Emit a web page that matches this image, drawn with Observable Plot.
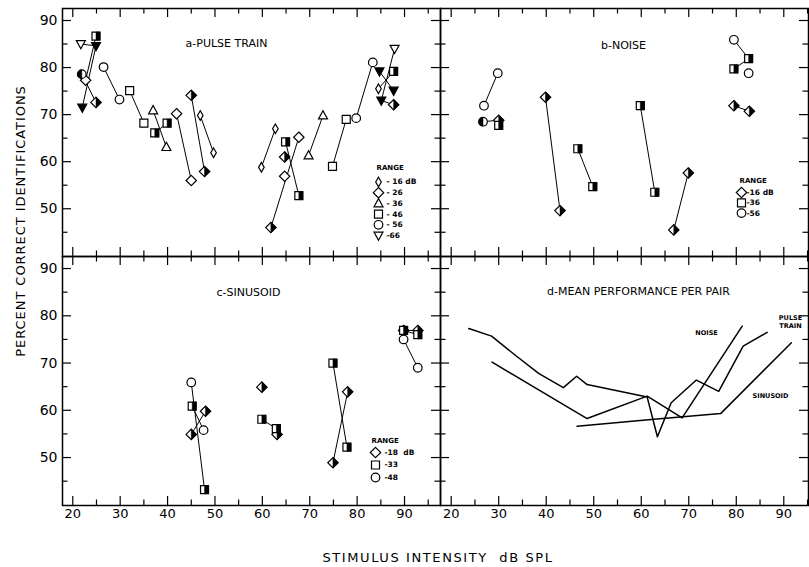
<!DOCTYPE html>
<html><head><meta charset="utf-8">
<script src="https://cdn.jsdelivr.net/npm/d3@7"></script>
<script src="https://cdn.jsdelivr.net/npm/@observablehq/plot@0.6"></script>
<style>
body{margin:0;background:#fff;}
#chart{position:relative;width:809px;height:567px;font-family:"DejaVu Sans",sans-serif;color:#000;overflow:hidden;}
#chart svg{position:absolute;left:0;top:0;}
.atitle{position:absolute;white-space:nowrap;font-size:13px;}
</style></head>
<body><div id="chart">
<div class="atitle" id="ytitle" style="left:20px;top:221px;letter-spacing:0.95px;transform:translate(-50%,-50%) rotate(-90deg);">PERCENT CORRECT IDENTIFICATIONS</div>
<div class="atitle" id="xtitle" style="left:438px;top:557px;letter-spacing:1.6px;transform:translate(-50%,-50%);">STIMULUS INTENSITY&nbsp; dB SPL</div>
</div>
<script>
// ---------- tick values ----------
const xTicks = [20, 30, 40, 50, 60, 70, 80, 90];
const xMinor = [25, 35, 45, 55, 65, 75, 85, 95];
const yTicks = [50, 60, 70, 80, 90];
const yMinor = [45, 55, 65, 75, 85];

// ---------- panel a: pulse train ----------
const pulseRanges = [16, 26, 36, 46, 56, 66];
const pulseRangeLabels = ["- 16 dB", "- 26", "- 36", "- 46", "- 56", "-66"];
// [dB SPL, % correct, range, member]
const pulsePoints = [
  [21.7, 85.0, 66, "open"], [24.9, 84.6, 66, "full"], [22.0, 71.5, 66, "full"],
  [24.9, 86.7, 46, "half"], [21.9, 78.6, 56, "half"], [22.7, 77.3, 26, "open"],
  [24.9, 72.6, 26, "half"], [26.5, 80.1, 56, "open"], [29.85, 73.2, 56, "open"],
  [32.0, 75.1, 46, "open"], [35.0, 68.2, 46, "open"], [37.3, 66.1, 46, "half"],
  [39.9, 68.2, 46, "half"], [36.95, 70.9, 36, "open"], [39.75, 63.1, 36, "open"],
  [41.9, 70.2, 26, "open"], [45.0, 56.0, 26, "open"], [45.0, 74.1, 26, "half"],
  [47.8, 57.9, 26, "half"], [46.9, 69.8, 16, "open"], [49.7, 61.9, 16, "open"],
  [59.8, 58.8, 16, "open"], [62.75, 67.0, 16, "open"], [61.8, 46.0, 26, "half"],
  [67.7, 65.2, 26, "open"], [64.7, 56.9, 26, "open"], [64.7, 61.0, 26, "half"],
  [64.9, 64.2, 46, "half"], [67.7, 52.8, 46, "half"], [69.75, 61.3, 36, "open"],
  [72.8, 69.8, 36, "open"], [74.8, 59.0, 46, "open"], [77.7, 69.0, 46, "open"],
  [79.8, 69.25, 56, "open"], [83.3, 81.1, 56, "open"], [87.9, 84.0, 66, "open"],
  [84.7, 79.2, 66, "full"], [87.7, 79.2, 46, "half"], [84.5, 75.5, 16, "open"],
  [85.1, 73.0, 66, "full"], [87.7, 75.1, 66, "full"], [87.7, 72.1, 26, "half"]
];
const pulseLinks = [[0,1],[1,2],[3,5],[4,6],[7,8],[9,10],[11,12],[13,14],[15,16],[17,18],
  [19,20],[21,22],[23,24],[27,28],[29,30],[31,32],[33,34],[35,39],[36,40],[37,38],[39,41]];

// ---------- panel b: noise ----------
const noiseRanges = [16, 36, 56];
const noiseRangeLabels = ["-16 dB", "-36", "-56"];
const noisePoints = [
  [26.9, 71.9, 56, "open"], [29.8, 78.8, 56, "open"], [26.7, 68.5, 56, "half"],
  [30.0, 68.8, 16, "half"], [30.0, 67.7, 36, "half"], [39.85, 73.7, 16, "half"],
  [42.9, 49.6, 16, "half"], [46.65, 62.75, 36, "half"], [49.8, 54.7, 36, "half"],
  [59.8, 71.9, 36, "half"], [62.85, 53.5, 36, "half"], [66.85, 45.5, 16, "half"],
  [69.9, 57.6, 16, "half"], [79.5, 85.9, 56, "open"], [82.6, 81.9, 36, "half"],
  [79.5, 79.7, 36, "half"], [82.6, 78.8, 56, "open"], [79.5, 71.9, 16, "half"],
  [82.75, 70.7, 16, "half"]
];
const noiseLinks = [[0,1],[2,3],[5,6],[7,8],[9,10],[11,12],[13,14],[15,14],[17,18]];

// ---------- panel c: sinusoid ----------
const sineRanges = [18, 33, 48];
const sineRangeLabels = ["-18  dB", "-33", "-48"];
const sinePoints = [
  [45.0, 65.9, 48, "open"], [47.8, 43.2, 33, "half"], [45.2, 60.9, 33, "half"],
  [47.6, 55.8, 48, "open"], [45.0, 54.9, 18, "half"], [48.0, 59.8, 18, "half"],
  [59.9, 64.9, 18, "half"], [59.9, 58.1, 33, "half"], [62.95, 56.1, 33, "half"],
  [63.1, 54.9, 18, "half"], [74.9, 70.0, 33, "half"], [77.85, 52.2, 33, "half"],
  [74.9, 48.9, 18, "half"], [78.0, 63.9, 18, "half"], [89.8, 76.9, 33, "half"],
  [92.8, 76.0, 33, "half"], [89.8, 76.9, 18, "half"], [92.8, 76.9, 18, "half"],
  [89.8, 75.0, 48, "open"], [92.8, 69.0, 48, "open"]
];
const sineLinks = [[0,1],[2,3],[4,5],[7,8],[10,11],[12,13],[14,15],[16,17],[18,19]];

// ---------- panel d: mean performance per pair ----------
const pulseMeanDB  = [23.7, 28.5, 33.5, 38.4, 43.6, 46.4, 48.6, 61.25, 63.4, 66.3, 71.6, 76.3, 81.45, 86.5];
const pulseMeanPct = [77.3, 75.7, 71.65, 67.8, 64.8, 67.2, 65.45, 62.8, 54.4, 61.6, 66.4, 64.0, 73.6, 76.5];
const noiseMeanDB  = [28.6, 48.6, 61.25, 68.6, 81.25];
const noiseMeanPct = [70.2, 58.25, 63.0, 58.4, 77.8];
const sineMeanDB   = [46.5, 61.5, 76.7, 91.6];
const sineMeanPct  = [56.6, 58.0, 59.3, 74.3];

// ---------- symbols (style) ----------
const SYM = {
  circle:  {draw(c){ c.moveTo(4.3,0); c.arc(0,0,4.3,0,2*Math.PI); c.closePath(); }},
  square:  {draw(c){ c.rect(-4,-4,8,8); }},
  diamond: {draw(c){ c.moveTo(0,-5.2); c.lineTo(5.2,0); c.lineTo(0,5.2); c.lineTo(-5.2,0); c.closePath(); }},
  narrow:  {draw(c){ c.moveTo(0,-4.8); c.lineTo(2.8,0); c.lineTo(0,4.8); c.lineTo(-2.8,0); c.closePath(); }},
  triUp:   {draw(c){ c.moveTo(0,-4.8); c.lineTo(4.5,3.4); c.lineTo(-4.5,3.4); c.closePath(); }},
  triDown: {draw(c){ c.moveTo(0,4.8); c.lineTo(4.5,-3.4); c.lineTo(-4.5,-3.4); c.closePath(); }}
};
const HALF = {
  circle:  {draw(c){ c.moveTo(0,-4.3); c.arc(0,0,4.3,-Math.PI/2,Math.PI/2,true); c.closePath(); }},
  square:  {draw(c){ c.rect(0,-4,4,8); }},
  diamond: {draw(c){ c.moveTo(0,-5.2); c.lineTo(5.2,0); c.lineTo(0,5.2); c.closePath(); }},
  narrow:  {draw(c){ c.moveTo(0,-4.8); c.lineTo(2.8,0); c.lineTo(0,4.8); c.closePath(); }},
  triUp:   {draw(c){ c.moveTo(0,-4.8); c.lineTo(4.5,3.4); c.lineTo(0,3.4); c.closePath(); }},
  triDown: {draw(c){ c.moveTo(0,4.8); c.lineTo(4.5,-3.4); c.lineTo(0,-3.4); c.closePath(); }}
};
const pulseShapes = ["narrow", "diamond", "triUp", "square", "circle", "triDown"];
const threeShapes = ["diamond", "square", "circle"];

const W0 = 809, H0 = 567;
const yDomain = [39.85, 92.55];
const chart = document.getElementById("chart");

function frameMarks(W, H) {
  const s = {stroke: "black", strokeWidth: 1.2};
  return [
    Plot.frame({stroke: "black", strokeWidth: 1.5}),
    Plot.ruleX(xTicks, {x: d => d, insetTop: H - 9, ...s}),
    Plot.ruleX(xMinor, {x: d => d, insetTop: H - 5.5, ...s}),
    Plot.ruleX(xTicks, {x: d => d, insetBottom: H - 9, ...s}),
    Plot.ruleX(xMinor, {x: d => d, insetBottom: H - 5.5, ...s}),
    Plot.ruleY(yTicks, {y: d => d, insetRight: W - 9, ...s}),
    Plot.ruleY(yMinor, {y: d => d, insetRight: W - 5.5, ...s}),
    Plot.ruleY(yTicks, {y: d => d, insetLeft: W - 9, ...s}),
    Plot.ruleY(yMinor, {y: d => d, insetLeft: W - 5.5, ...s})
  ];
}

function scatterMarks(points, links, ranges, shapes) {
  const pts = points.map(([x, y, r, m]) => ({x, y, r, m, shape: shapes[ranges.indexOf(r)]}));
  const marks = [
    Plot.link(links, {x1: l => pts[l[0]].x, y1: l => pts[l[0]].y, x2: l => pts[l[1]].x, y2: l => pts[l[1]].y,
      stroke: "black", strokeWidth: 1})
  ];
  for (const key of shapes) {
    const sel = pts.filter(p => p.shape === key);
    if (!sel.length) continue;
    marks.push(Plot.dot(sel, {x: "x", y: "y", symbol: SYM[key], fill: p => p.m === "full" ? "black" : "white",
      stroke: "black", strokeWidth: 1.2}));
    const half = sel.filter(p => p.m === "half");
    if (half.length) marks.push(Plot.dot(half, {x: "x", y: "y", symbol: HALF[key], fill: "black", stroke: "black", strokeWidth: 0.5}));
  }
  return marks;
}

function legendMarks(labels, shapes, sx, tx, y0, step, hx, hy) {
  const marks = [Plot.text(["RANGE"], {frameAnchor: "top-left", dx: hx, dy: hy, text: d => d, textAnchor: "start",
    lineAnchor: "middle", fontSize: 7, fontWeight: "bold"})];
  labels.forEach((lab, i) => {
    marks.push(Plot.dot([lab], {frameAnchor: "top-left", dx: sx, dy: y0 + i * step, symbol: SYM[shapes[i]],
      fill: "white", stroke: "black", strokeWidth: 1.2}));
    marks.push(Plot.text([lab], {frameAnchor: "top-left", dx: tx, dy: y0 + i * step, text: d => d, textAnchor: "start",
      lineAnchor: "middle", fontSize: 7.5, fontWeight: "bold"}));
  });
  return marks;
}

function titleMark(t, dx, dy, size = 11) {
  return Plot.text([t], {frameAnchor: "top-left", dx, dy, text: d => d, textAnchor: "middle", lineAnchor: "middle",
    fontSize: size, ariaLabel: "ptitle"});
}

function panel({L, R, T, B, xdom, marks, yAxis, xAxis}) {
  const W = R - L, H = B - T;
  const all = [...frameMarks(W, H), ...marks];
  if (yAxis) all.push(Plot.axisY(yTicks, {anchor: "left", tickSize: 0, tickPadding: 5, fontSize: 14, label: null}));
  if (xAxis) all.push(Plot.axisX(xTicks, {anchor: "bottom", tickSize: 0, tickPadding: 3, fontSize: 13, label: null}));
  const svg = Plot.plot({
    width: W0, height: H0,
    marginLeft: L, marginRight: W0 - R, marginTop: T, marginBottom: H0 - B,
    x: {domain: xdom, axis: null},
    y: {domain: yDomain, axis: null},
    style: {background: "transparent", overflow: "visible", fontFamily: "'DejaVu Sans', sans-serif"},
    marks: all
  });
  d3.select(svg).selectAll('g[aria-label="ptitle"] text').style("letter-spacing", "0.8px");
  chart.appendChild(svg);
}

const xLeft = [17.83, 97.59], xRight = [17.75, 95.2];

// a
panel({L: 62, R: 440, T: 8, B: 256, xdom: xLeft, yAxis: true, xAxis: false, marks: [
  titleMark("a-PULSE TRAIN", 164, 35),
  ...scatterMarks(pulsePoints, pulseLinks, pulseRanges, pulseShapes),
  ...legendMarks(pulseRangeLabels, pulseShapes, 316, 324, 173.5, 10.7, 314, 159)
]});
// b
panel({L: 440, R: 808, T: 8, B: 256, xdom: xRight, yAxis: false, xAxis: false, marks: [
  titleMark("b-NOISE", 183, 37),
  ...scatterMarks(noisePoints, noiseLinks, noiseRanges, threeShapes),
  ...legendMarks(noiseRangeLabels, threeShapes, 301, 306, 184, 10.3, 299, 172)
]});
// c
panel({L: 62, R: 440, T: 256, B: 505, xdom: xLeft, yAxis: true, xAxis: true, marks: [
  titleMark("c-SINUSOID", 186, 36),
  ...scatterMarks(sinePoints, sineLinks, sineRanges, threeShapes),
  ...legendMarks(sineRangeLabels, threeShapes, 313, 322, 196, 12.5, 309, 184)
]});
// d
const meanRows = [
  ...pulseMeanDB.map((x, i) => ({s: "pulse", x, y: pulseMeanPct[i]})),
  ...noiseMeanDB.map((x, i) => ({s: "noise", x, y: noiseMeanPct[i]})),
  ...sineMeanDB.map((x, i) => ({s: "sine", x, y: sineMeanPct[i]}))
];
const smallLab = (t, dx, dy) => Plot.text([t], {frameAnchor: "top-left", dx, dy, text: d => d, textAnchor: "middle",
  lineAnchor: "middle", fontSize: 6.5, fontWeight: "bold"});
panel({L: 440, R: 808, T: 256, B: 505, xdom: xRight, yAxis: false, xAxis: true, marks: [
  titleMark("d-MEAN PERFORMANCE PER PAIR", 198, 35),
  Plot.line(meanRows, {x: "x", y: "y", z: "s", stroke: "black", strokeWidth: 1.5}),
  smallLab("NOISE", 266, 76),
  smallLab("PULSE", 350, 61),
  smallLab("TRAIN", 350, 69.5),
  smallLab("SINUSOID", 330, 139)
]});
</script>
</body></html>
